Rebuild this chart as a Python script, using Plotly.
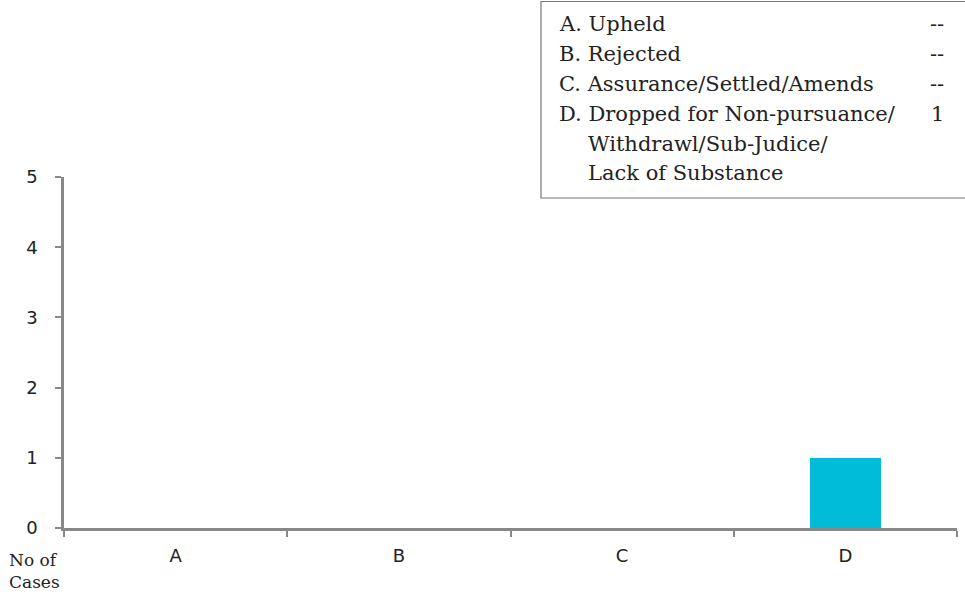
import plotly.graph_objects as go

categories = ["A", "B", "C", "D"]
cases = [0, 0, 0, 1]
legend_lines = ["A. Upheld", "B. Rejected", "C. Assurance/Settled/Amends",
                "D. Dropped for Non-pursuance/", "Withdrawl/Sub-Judice/", "Lack of Substance"]
legend_values = ["--", "--", "--", "1", "", ""]
y_ticks = [0, 1, 2, 3, 4, 5]

W, H = 965, 598
ML, MR, MT, MB = 64, 8, 177, 70
PW, PH = W - ML - MR, H - MT - MB

def px(x):
    return (x - ML) / PW

def py(y):
    return (H - MB - y) / PH

fig = go.Figure()
fig.add_trace(go.Bar(x=categories, y=cases, marker=dict(color="#00BCD9", line=dict(width=0)),
                     width=0.32, hoverinfo="x+y"))

serif = "DejaVu Serif, serif"
sans = "DejaVu Sans, Verdana, sans-serif"

annotations = []
ys = [24, 54, 84, 114, 144, 173]
for i, (t, v) in enumerate(zip(legend_lines, legend_values)):
    xx = 557 if i < 4 else 586
    annotations.append(dict(x=px(xx), y=py(ys[i]), xref="paper", yref="paper", text=t,
                            showarrow=False, xanchor="left", yanchor="middle",
                            font=dict(family=serif, size=21, color="#222")))
    if v:
        annotations.append(dict(x=px(946), y=py(ys[i]), xref="paper", yref="paper", text=v,
                                showarrow=False, xanchor="right", yanchor="middle",
                                font=dict(family=serif, size=21, color="#222")))
annotations.append(dict(x=px(7), y=py(571), xref="paper", yref="paper", text="No of<br>Cases",
                        showarrow=False, xanchor="left", yanchor="middle", align="left",
                        font=dict(family=serif, size=17, color="#222")))

fig.update_layout(
    width=W, height=H,
    margin=dict(l=ML, r=MR, t=MT, b=MB),
    paper_bgcolor="white", plot_bgcolor="white",
    showlegend=False,
    bargap=0,
    annotations=annotations,
    shapes=[dict(type="rect", xref="paper", yref="paper", x0=px(541), x1=px(975),
                 y0=py(198), y1=py(1.5), line=dict(color="#777", width=1.2), fillcolor="rgba(0,0,0,0)")],
    xaxis=dict(type="category", range=[-0.5, 3.5], showgrid=False, showline=True,
               linecolor="#888", linewidth=2.5, ticks="outside", tickson="boundaries",
               ticklen=6, tickwidth=2, tickcolor="#888",
               tickfont=dict(family=sans, size=18, color="#222"), ticklabelstandoff=10),
    yaxis=dict(range=[0, 5], tickvals=y_ticks, showgrid=False, showline=True, zeroline=False,
               linecolor="#888", linewidth=2.5, ticks="outside", ticklen=6, tickwidth=2,
               tickcolor="#888", tickfont=dict(family=sans, size=18, color="#222"),
               ticklabelstandoff=14),
)

fig.write_html("out.html")
